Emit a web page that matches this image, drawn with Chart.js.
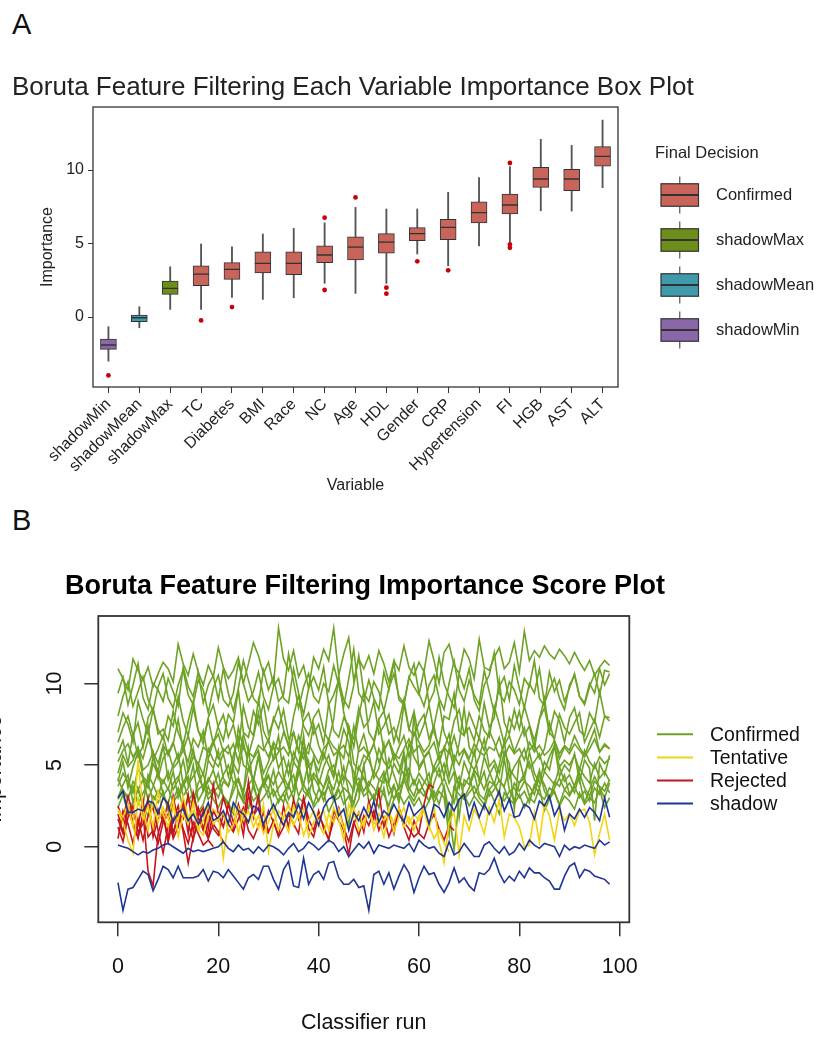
<!DOCTYPE html>
<html>
<head>
<meta charset="utf-8">
<title>Boruta feature filtering</title>
<script src="https://cdn.jsdelivr.net/npm/chart.js@4.4.1/dist/chart.umd.min.js"></script>
<style>
  html, body { margin: 0; padding: 0; background: #fff; }
  body { width: 821px; height: 1038px; position: relative; overflow: hidden; font-family: 'Liberation Sans', Arial, sans-serif; }
  .panel-tag { position: absolute; left: 12px; font-size: 29px; line-height: 32px; color: #111; }
  #boxChart { position: absolute; left: 0; top: 60px; }
  #historyChart { position: absolute; left: 0; top: 560px; }
</style>
</head>
<body>
<div class="panel-tag" style="top: 8px;">A</div>
<div class="panel-tag" style="top: 504px;">B</div>
<canvas id="boxChart" width="821" height="440"></canvas>
<canvas id="historyChart" width="821" height="478"></canvas>
<script>
// ---------- Panel A: box plot summary ----------
const variables = ['shadowMin', 'shadowMean', 'shadowMax', 'TC', 'Diabetes', 'BMI', 'Race', 'NC', 'Age', 'HDL', 'Gender', 'CRP', 'Hypertension', 'FI', 'HGB', 'AST', 'ALT'];
const decisions = ['shadowMin', 'shadowMean', 'shadowMax', 'Confirmed', 'Confirmed', 'Confirmed', 'Confirmed', 'Confirmed', 'Confirmed', 'Confirmed', 'Confirmed', 'Confirmed', 'Confirmed', 'Confirmed', 'Confirmed', 'Confirmed', 'Confirmed'];
const whiskerLow  = [-3.00, -0.73, 0.52, 0.52, 1.34, 1.20, 1.31, 2.29, 1.61, 2.29, 4.29, 3.49, 4.83, 5.12, 7.23, 7.21, 8.80];
const q1          = [-2.20, -0.32, 1.54, 2.13, 2.56, 3.01, 2.88, 3.70, 3.88, 4.35, 5.19, 5.26, 6.41, 7.01, 8.82, 8.59, 10.27];
const medians     = [-1.90, -0.05, 1.95, 2.92, 3.24, 3.65, 3.65, 4.22, 4.76, 5.10, 5.67, 6.10, 7.10, 7.62, 9.39, 9.39, 10.93];
const q3          = [-1.50, 0.14, 2.45, 3.49, 3.70, 4.44, 4.44, 4.85, 5.46, 5.67, 6.08, 6.64, 7.84, 8.37, 10.18, 10.05, 11.59];
const whiskerHigh = [-0.66, 0.70, 3.42, 4.97, 4.78, 5.65, 6.03, 6.41, 7.46, 7.35, 7.35, 8.48, 9.48, 10.23, 12.09, 11.68, 13.40];
const outlierVars = ['shadowMin', 'TC', 'Diabetes', 'NC', 'NC', 'Age', 'HDL', 'HDL', 'Gender', 'CRP', 'FI', 'FI', 'FI'];
const outlierVals = [-3.97, -0.23, 0.68, 6.76, 1.84, 8.14, 2.00, 1.59, 3.79, 3.18, 10.48, 4.94, 4.71];
const legendDecisions = ['Confirmed', 'shadowMax', 'shadowMean', 'shadowMin'];
const boxFill = { Confirmed: '#c8645a', shadowMax: '#6e8e1b', shadowMean: '#3f9bab', shadowMin: '#8a67a8' };

// ---------- Panel B: importance history (runs 0..98) ----------
const runs = Array.from({ length: 99 }, (_, i) => i);
const impALT = [10.9,10.3,9.6,11.5,10.8,10.2,11.0,9.8,10.6,11.3, 10.9,10.1,12.4,11.2,10.5,11.8,10.7,9.9,11.1,10.4, 12.2,11.0,10.3,10.8,11.6,10.0,11.2,12.5,11.7,10.6, 11.3,9.9,13.4,11.5,10.8,12.0,10.4,11.1,9.7,11.6, 10.9,12.1,11.4,13.4,10.5,11.8,12.8,10.2,11.5,10.9, 11.7,10.6,12.0,11.2,10.1,11.4,10.8,12.3,11.0,10.5, 11.3,10.7,12.6,11.4,10.0,11.9,12.4,11.1,10.6,12.1, 11.5,10.3,12.7,11.0,10.8,11.6,12.2,10.9,11.3,12.5, 10.7,13.2,11.4,12.0,11.6,12.3,11.8,11.5,12.1,11.7, 11.2,11.9,11.3,10.8,11.4,10.5,11.0,11.4,11.1];
const impHGB = [9.4,10.4,8.7,9.9,11.2,9.1,8.4,10.0,9.6,8.9, 10.3,9.5,8.6,11.0,9.8,9.2,10.7,8.8,9.9,10.5, 9.0,10.9,9.4,8.3,9.7,11.4,10.2,9.1,8.7,10.8, 9.6,10.4,8.9,9.3,11.8,10.1,8.5,9.8,10.6,9.2, 8.8,10.0,9.5,11.1,9.9,8.6,10.3,12.1,9.4,8.9, 10.2,9.1,8.4,10.7,9.6,11.3,9.0,8.7,10.4,9.8, 9.3,10.8,8.8,9.5,11.6,10.0,9.2,8.5,10.6,9.7, 10.9,9.0,8.3,9.9,10.5,11.9,9.4,8.9,10.1,9.6, 8.7,10.3,9.8,11.4,9.1,8.6,10.7,9.5,10.2,8.9, 9.7,10.6,9.2,8.8,10.0,9.4,10.9,9.9,10.6];
const impAST = [8.0,9.2,10.1,8.6,9.5,10.4,9.0,8.3,9.8,10.6, 9.1,8.5,9.9,10.8,9.3,8.7,10.2,9.6,8.2,9.7, 10.5,9.0,8.6,9.4,11.3,10.0,8.9,9.5,10.7,9.2, 8.4,9.8,10.3,9.1,8.8,10.9,9.4,8.1,9.7,10.4, 9.6,11.0,8.7,9.3,10.2,9.0,8.5,9.9,11.7,9.4, 8.9,10.1,9.5,8.3,9.7,10.6,9.2,8.8,10.3,11.2, 9.4,8.6,9.9,10.5,9.1,8.4,10.0,11.4,9.6,8.9, 10.2,9.3,8.7,10.8,9.5,8.2,9.8,10.4,9.0,11.1, 9.7,8.5,10.0,9.4,10.9,8.8,9.6,10.3,9.1,8.4, 9.9,10.5,9.2,8.7,9.8,10.6,9.3,10.8,10.7];
const impFI = [7.0,8.2,7.5,6.4,8.9,7.8,6.9,8.4,7.2,6.6, 8.0,7.4,9.2,7.7,6.8,8.5,7.1,6.3,7.9,8.7, 7.3,6.5,8.1,7.6,9.6,7.0,6.7,8.3,7.5,8.8, 6.9,7.7,8.6,7.2,6.1,8.0,9.3,7.4,6.8,7.9, 8.4,7.1,6.5,7.8,10.5,8.2,7.0,6.6,8.5,7.3, 7.7,8.9,6.9,7.4,8.1,6.4,7.6,9.0,7.2,8.3, 6.7,7.5,8.7,7.0,6.2,8.0,7.8,9.4,7.1,6.8, 8.2,7.4,6.6,8.8,7.3,7.9,10.2,7.6,6.9,8.4, 7.2,8.6,7.5,6.5,7.8,9.1,7.0,8.3,7.7,6.4, 7.9,8.5,7.1,6.8,8.2,7.6,9.5,8.0,7.7];
const impHypertension = [6.4,7.3,8.0,6.8,7.6,6.1,7.9,8.5,6.9,7.2, 6.5,8.3,7.0,6.2,7.7,8.9,7.1,6.6,7.8,6.3, 7.4,8.1,6.7,7.5,6.0,8.6,7.3,6.8,9.0,7.1, 6.4,7.9,7.2,8.4,6.6,7.0,5.8,7.7,8.2,6.9, 7.5,6.3,8.8,7.1,6.7,7.9,7.4,6.1,8.0,9.5, 7.0,6.5,7.8,8.3,6.9,7.3,6.4,8.7,7.2,6.8, 7.6,8.1,6.6,7.4,8.9,7.0,6.2,7.7,8.4,6.9, 7.3,6.5,8.0,7.1,6.7,8.6,7.5,6.3,7.9,7.2, 8.3,6.8,7.4,6.0,7.8,8.5,7.0,6.6,8.1,7.3, 6.9,7.6,8.2,6.4,7.1,7.8,6.7,8.0,7.9];
const impCRP = [5.7,6.5,5.1,6.9,5.5,6.2,7.4,5.3,6.0,6.8, 5.6,6.3,7.8,5.9,5.2,6.6,6.1,7.1,5.4,6.4, 6.9,5.8,6.2,5.0,7.3,6.0,5.6,6.7,8.2,6.1, 5.5,6.4,5.9,7.0,6.3,5.2,6.8,6.0,5.7,7.5, 6.2,5.4,6.6,6.1,5.8,7.2,6.4,3.9,6.0,6.9, 5.6,6.3,7.7,5.9,6.5,5.3,6.1,6.8,5.5,7.0, 6.4,5.8,6.2,7.4,5.7,6.0,6.9,5.1,6.3,8.5, 6.1,5.6,6.7,5.9,7.1,6.4,5.5,6.2,6.8,5.8, 6.6,7.3,5.9,6.3,5.4,6.0,7.6,6.5,5.7,6.2, 5.9,6.8,6.1,5.6,6.4,7.2,5.8,6.3,6.0];
const impGender = [5.2,5.9,6.3,5.5,6.0,5.4,6.6,5.8,5.1,6.2, 5.7,6.4,5.3,5.9,6.8,5.6,5.0,6.1,5.8,6.5, 5.4,6.0,5.7,6.3,5.2,6.9,5.8,5.5,6.2,5.9, 6.6,5.3,5.8,6.1,5.6,7.0,5.9,5.4,6.3,5.7, 5.1,6.0,6.4,5.6,5.9,6.2,5.5,7.4,5.8,6.1, 5.6,6.3,5.2,5.9,6.5,5.7,5.4,6.0,6.6,5.8, 6.2,5.5,5.9,6.4,5.3,6.1,5.7,6.8,5.6,6.0, 5.4,6.3,5.8,5.6,6.1,5.9,6.7,5.5,6.2,5.7, 6.0,5.3,6.4,5.8,6.2,5.6,5.9,6.5,5.4,6.1, 5.7,6.3,5.9,5.5,6.0,6.6,5.8,6.2,6.0];
const impHDL = [4.5,5.6,4.9,5.3,6.1,4.7,5.0,5.8,4.2,5.4, 5.9,4.8,5.2,6.4,4.6,5.5,5.1,4.4,6.0,5.3, 4.9,5.7,4.3,5.6,6.7,5.0,4.7,5.4,5.9,4.5, 5.2,6.2,4.8,5.5,4.4,5.8,5.1,6.5,4.9,5.3, 4.6,5.7,5.0,4.2,5.9,5.4,7.3,5.1,4.7,5.6, 5.3,4.5,6.0,5.2,4.8,5.7,5.0,4.4,6.3,5.5, 4.9,5.4,5.8,4.6,5.1,6.1,4.3,5.6,5.0,5.9, 5.2,4.7,5.5,6.6,4.9,5.3,4.5,5.8,5.1,2.3, 5.4,6.0,4.8,5.2,5.7,4.6,5.5,6.2,4.9,5.3, 5.0,5.6,4.7,5.9,5.2,4.8,5.5,5.1,5.4];
const impAge = [4.0,5.2,3.6,4.9,5.8,4.3,3.9,5.5,4.6,6.2, 4.1,5.0,5.7,3.8,4.7,6.0,4.4,3.5,5.3,4.8, 5.9,4.2,3.7,5.1,4.5,6.4,5.0,4.0,5.6,3.9, 4.8,5.4,6.8,4.3,3.6,5.2,4.7,5.9,4.1,5.5, 3.8,4.9,5.6,4.4,6.1,4.0,5.3,4.6,3.4,5.0, 5.7,4.2,4.8,6.3,3.9,5.1,4.5,5.8,4.1,8.1, 4.7,5.3,3.7,4.9,5.6,4.3,6.0,4.8,3.6,5.2, 4.4,5.9,4.0,5.5,4.6,3.8,5.0,6.5,4.2,4.9, 5.4,4.1,5.8,4.5,3.9,5.2,4.7,6.2,4.3,5.0, 4.6,5.7,4.0,5.3,4.8,1.6,5.1,4.4,5.6];
const impNC = [3.7,4.5,4.0,3.3,4.8,4.2,3.6,5.1,4.4,3.9, 4.6,3.5,4.1,5.3,3.8,4.3,4.9,3.4,4.0,4.7, 3.6,4.4,5.0,3.9,4.2,3.3,4.8,4.1,5.5,3.7, 4.3,3.8,4.6,4.0,5.2,3.5,4.4,6.8,3.9,4.5, 4.1,3.6,4.7,5.0,3.8,4.3,4.0,3.4,4.9,4.2, 3.7,4.6,4.1,3.9,5.4,4.4,3.5,4.2,4.8,3.8, 4.5,4.0,3.6,4.9,4.3,5.1,3.9,4.6,1.8,4.1, 3.8,4.7,4.2,3.5,4.4,5.0,4.0,3.7,4.8,4.3, 3.9,4.5,5.2,4.1,3.6,4.6,4.2,3.8,4.9,4.0, 4.4,3.7,4.8,4.3,3.9,5.1,4.2,4.6,4.0];
const impRace = [3.0,3.8,4.4,2.7,3.5,4.1,2.9,3.7,4.6,3.2, 2.6,3.9,4.3,3.1,3.6,5.0,2.8,3.4,4.2,3.7, 4.5,3.0,2.5,3.8,4.0,3.3,6.0,3.6,2.9,4.1, 3.5,4.7,3.2,2.7,3.9,4.4,3.1,3.8,5.2,3.4, 2.8,3.6,4.3,3.0,3.7,4.9,3.3,2.6,3.9,4.2, 3.5,2.9,4.0,4.6,3.2,3.8,2.7,4.4,3.6,3.1, 4.1,3.4,2.8,3.9,4.8,3.5,1.3,3.7,4.3,3.0, 3.6,4.5,3.2,2.9,4.0,3.8,3.3,5.4,3.5,2.8, 3.9,4.2,3.1,3.6,4.7,3.4,2.9,4.0,3.7,4.4, 3.2,3.8,4.1,2.7,3.5,4.3,3.6,3.0,3.9];
const impBMI = [4.2,3.4,2.9,4.0,3.6,2.6,4.4,3.8,3.1,4.1, 3.5,4.6,3.0,3.7,4.3,2.8,3.9,4.5,3.2,3.6, 3.0,4.0,3.7,4.8,3.3,2.7,3.8,4.2,3.4,3.9, 4.4,3.1,3.6,4.1,2.9,3.5,5.0,3.8,3.2,4.3, 3.7,2.8,4.0,3.5,4.6,3.3,1.2,3.9,4.2,3.4, 4.0,3.6,3.1,4.4,3.8,2.9,3.7,5.6,3.5,4.1, 3.3,3.9,4.5,3.0,3.6,4.2,3.4,2.7,4.0,3.7, 4.3,3.2,3.8,4.6,3.1,3.5,4.1,3.6,2.8,3.9, 3.4,4.0,3.7,3.2,4.4,3.8,3.0,3.6,4.2,3.5, 3.9,3.3,4.5,3.6,3.1,4.0,3.7,3.4,4.1];
const impDiabetes = [2.9,3.5,3.0,3.7,2.6,3.3,3.9,2.8,3.4,3.1, 3.6,2.7,3.2,4.0,3.0,2.5,3.5,3.8,2.9,3.3, 3.7,3.1,2.6,3.4,4.2,3.0,3.6,2.8,3.2,3.9, 3.0,3.5,2.7,3.3,3.8,2.9,4.8,3.4,3.1,2.6, 3.5,3.2,3.7,2.8,3.0,3.6,3.3,2.7,3.9,3.1, 3.4,2.9,3.6,3.2,2.5,3.7,3.0,4.1,3.3,2.8, 3.5,3.1,3.8,2.7,3.4,3.0,0.7,3.6,3.2,2.9, 3.3,3.7,3.0,2.6,3.5,3.9,3.1,2.8,3.4,3.6, 3.0,3.4,2.7,3.8,3.2,2.9,3.6,3.3,2.6,3.5, 3.1,3.7,3.0,3.4,2.8,3.6,3.2,3.9,3.3];
const impTC = [2.4,3.2,2.0,2.8,3.5,2.5,1.9,3.1,2.7,3.4, 2.2,2.9,3.6,2.3,2.8,3.3,2.1,2.6,3.7,2.9, 2.4,3.1,2.7,2.0,3.4,2.8,2.3,3.9,2.6,3.0, 3.5,2.2,2.9,3.2,2.5,1.8,3.0,2.7,3.6,2.4, 2.9,3.3,2.1,2.8,3.5,2.6,3.1,2.3,2.9,5.0, 2.7,3.2,2.4,3.6,2.0,2.9,3.3,2.6,3.1,2.5, 3.0,2.2,2.8,3.4,2.6,3.7,2.1,-0.2,2.9,3.2, 2.5,3.1,2.7,2.3,3.5,2.8,2.0,3.3,2.9,2.6, 3.2,2.4,3.0,2.7,3.6,2.2,2.9,3.4,2.5,3.1, 2.8,2.3,3.3,2.6,3.0,2.7,3.5,2.4,3.0];
const tentativeA = [2.3,1.8,2.6,1.2,5.3,2.2,1.0,2.8,1.5,2.4, 1.7,2.9,0.6,2.0,1.4,2.7,1.1,0.7,1.9,2.3, 2.0,-0.7,1.6,2.4,0.8,2.2,1.5,2.0,1.1,2.6, -0.3,1.4,2.2,1.7,0.9,2.5,1.8,2.3,0.6,1.5, 1.9,2.2,1.0,2.4,1.7,0.4,2.6,1.8,2.1,1.2, 2.5,1.0,2.0,1.6,2.3,0.9,1.8,2.4,1.4,2.0, 1.6,2.2,1.1,2.5,0.3,-1.0,1.5,2.1,-0.5,1.9, 1.0,2.3,1.7,0.8,2.4,1.5,2.9,0.6,2.0,1.8, 1.2,0.0,0.1,2.1,0.3,2.6,1.9,0.4,2.2,1.6, 2.0,1.3,2.2,2.3,1.5,-0.5,0.8,2.0,0.4];
const tentativeB = [2.2,1.5,0.4,-0.4,3.0,1.7,2.5,1.2,3.4,2.0, 1.2,2.4,1.6,3.1,1.8,2.2,1.0,1.6,2.6,1.4, 1.7,2.1,0.9,1.3,2.4,1.6,2.2,1.2,1.9,0.8, 1.5,2.3,1.0,1.8,2.6,1.3,2.0,0.7,1.6,2.2, 1.4,0.8,2.0,1.5,2.3,1.1,1.9,2.4,1.0,1.6, 2.2,1.4,1.7,0.6,2.1,1.5,2.4,1.2,1.8,1.0, 1.9,2.4,1.3,0.5,1.0,0.2,-0.3];
const rejectedA = [0.5,2.2,1.4,0.2,1.7,0.4,1.9,2.4,1.0,-0.4, 1.3,0.7,2.0,1.1,0.2,1.5,0.8,0.1,0.4,0.0];
const rejectedB = [2.0,0.9,2.6,1.5,0.5,2.1,-1.5,-2.4,0.8,1.9, 0.3,1.6,2.5,0.9,-1.0,0.6,1.3,2.2,0.5,1.4, 0.9,0.3];
const rejectedC = [1.2,0.3,1.8,2.5,0.9,1.4,3.0,0.6,1.7,2.1, 0.4,3.1,1.6,2.7,0.8,3.3,1.9,2.4,1.1,3.8, 2.0,1.2,2.6,1.5,2.2,0.7,3.2,1.9,2.4,1.3, 0.8];
const rejectedD = [2.5,1.6,3.1,2.0,1.3,2.8,0.6,1.0,2.3,1.5, 2.7,0.8,2.1,1.7,3.2,0.9,2.4,1.2,0.5,2.2, 1.6,3.0,2.0,1.1,2.6,1.4,4.0,1.8,3.1,1.0, 2.2,1.5,0.7,2.5,1.2,2.9,1.7,3.0,1.1,0.6, 1.9,1.3,0.4,2.2,1.6,1.0,-0.5,1.4,2.1,0.9, 2.8,1.7,3.4,1.2,2.0,0.8,2.4,1.5,1.1,0.6, 0.9,2.6,3.8,3.6];
const rejectedE = [1.7,0.8,2.4,1.3,0.6,1.9,2.7,1.0,0.2,1.5, 2.0,0.5,1.2,2.9,1.4,0.4,1.8,1.0,2.3,1.1, 0.7,2.0,1.4,0.9,1.7,2.4,1.0,0.5,1.3,2.1, 0.9,1.6,0.6,1.2,2.0,1.4,0.8,3.0,1.7,1.0, 2.2,1.1,0.5,1.6,2.4,1.2,0.3,1.5,0.7,1.9, 1.3,2.2,1.0,1.8,0.6,1.4,2.3,1.2,0.4,1.6, 0.8,0.5,1.4,2.0,1.1,0.4,1.3,1.0];
const shadowMaxRuns = [3.0,3.4,2.1,2.1,2.3,2.2,2.8,2.7,2.0,3.0, 2.6,1.5,2.1,2.3,1.6,2.0,1.4,2.0,2.7,1.6, 1.8,2.2,1.4,2.7,2.2,2.0,1.5,2.5,2.3,1.4, 2.0,2.6,1.9,1.3,2.1,1.8,2.6,1.7,2.7,2.1, 1.3,2.4,2.9,3.1,1.9,2.3,1.0,2.1,1.6,2.4, 1.8,2.8,1.5,2.2,1.9,2.6,2.0,1.5,2.7,1.9, 2.2,2.5,1.4,2.6,2.4,1.8,2.7,2.2,2.9,3.2, 1.7,2.7,1.8,2.6,2.0,2.7,3.4,2.2,2.9,1.8, 1.9,2.6,2.4,1.7,2.8,2.5,3.1,1.9,2.5,1.0, 2.0,1.7,2.3,1.8,2.4,2.1,1.6,3.0,1.8];
const shadowMeanRuns = [0.1,0.0,-0.1,-0.3,-0.5,-0.3,-0.4,-0.2,-0.1,0.1, 0.2,0.0,-0.2,-0.4,-0.1,-0.3,-0.2,-0.3,-0.2,-0.1, 0.0,0.3,-0.1,-0.3,0.1,-0.2,-0.1,-0.4,0.0,-0.3, 0.1,0.0,-0.2,-0.5,-0.1,0.2,-0.3,-0.1,0.3,0.1, -0.2,0.1,0.4,0.2,-0.3,0.0,-0.6,-0.2,0.2,-0.1, 0.3,-0.4,0.1,0.0,-0.1,0.1,0.0,-0.1,0.2,-0.3, 0.4,0.1,-0.1,0.0,-0.4,-0.6,0.3,-0.5,-0.3,0.2, -0.2,-0.6,-0.6,0.1,0.3,-0.1,-0.4,0.0,-0.5,-0.3, 0.2,-0.2,0.4,0.1,-0.1,0.2,0.1,0.0,-0.6,0.1, -0.2,0.0,-0.1,0.1,0.0,-0.1,0.4,0.1,0.3];
const shadowMinRuns = [-2.2,-3.9,-2.6,-2.5,-2.0,-1.5,-1.7,-2.7,-2.0,-1.2, -1.4,-1.9,-1.2,-1.9,-1.9,-1.9,-1.8,-1.4,-2.1,-1.5, -1.6,-1.9,-1.4,-1.8,-2.2,-2.6,-1.9,-1.7,-2.0,-1.2, -1.2,-2.0,-2.6,-1.4,-0.9,-2.4,-2.5,-0.7,-2.3,-1.7, -1.5,-2.0,-1.0,-0.9,-1.9,-2.3,-2.3,-2.0,-2.5,-2.4, -3.9,-1.7,-1.5,-2.3,-1.6,-2.6,-1.8,-1.1,-1.6,-2.8, -1.9,-1.2,-1.7,-1.6,-2.3,-2.8,-2.2,-1.3,-2.2,-1.9, -2.4,-2.7,-1.6,-1.7,-1.4,-0.7,-1.6,-2.2,-1.8,-2.1, -1.5,-1.9,-1.3,-1.6,-1.6,-1.9,-2.1,-2.6,-2.6,-1.8, -1.2,-1.0,-1.9,-1.4,-1.5,-1.8,-1.9,-2.0,-2.3];

const confirmedSeries = [impTC, impDiabetes, impBMI, impRace, impNC, impAge, impHDL, impGender, impCRP, impHypertension, impFI, impHGB, impAST, impALT];
const tentativeSeries = [tentativeA, tentativeB];
const rejectedSeries = [rejectedA, rejectedB, rejectedC, rejectedD, rejectedE];
const shadowSeries = [shadowMaxRuns, shadowMeanRuns, shadowMinRuns];
const historyGroups = ['Confirmed', 'Tentative', 'Rejected', 'shadow'];
const historyColors = { Confirmed: '#6da225', Tentative: '#f2d412', Rejected: '#c4161c', shadow: '#203593' };

Chart.defaults.font.family = "'Liberation Sans', Arial, Helvetica, sans-serif";
Chart.defaults.color = '#222';

// draws the closed frame around the plotting area
const framePlugin = {
    id: 'frame',
    afterDatasetsDraw(chart, args, opts) {
        const { ctx, chartArea: a } = chart;
        ctx.save();
        ctx.strokeStyle = opts.color || '#333';
        ctx.lineWidth = opts.width || 1;
        ctx.strokeRect(a.left, a.top, a.right - a.left, a.bottom - a.top);
        ctx.restore();
    }
};

// legend with box-plot keys (panel A)
const boxLegendPlugin = {
    id: 'boxLegend',
    afterDraw(chart, args, o) {
        const ctx = chart.ctx;
        ctx.save();
        ctx.font = "16.5px 'Liberation Sans', Arial, sans-serif";
        ctx.textBaseline = 'middle';
        ctx.fillStyle = '#222';
        ctx.fillText('Final Decision', o.x, o.y);
        legendDecisions.forEach((name, i) => {
            const cy = o.y + 42 + i * 45;
            const left = o.x + 6, w = 37.5, h = 22.5;
            ctx.strokeStyle = '#555';
            ctx.lineWidth = 1.2;
            ctx.beginPath();
            ctx.moveTo(left + w / 2, cy - 18.5);
            ctx.lineTo(left + w / 2, cy + 18.5);
            ctx.stroke();
            ctx.fillStyle = boxFill[name];
            ctx.fillRect(left, cy - h / 2, w, h);
            ctx.strokeStyle = '#333';
            ctx.strokeRect(left, cy - h / 2, w, h);
            ctx.lineWidth = 1.8;
            ctx.beginPath();
            ctx.moveTo(left, cy);
            ctx.lineTo(left + w, cy);
            ctx.stroke();
            ctx.fillStyle = '#222';
            ctx.fillText(name, o.x + 61, cy);
        });
        ctx.restore();
    }
};

// line-key legend (panel B)
const lineLegendPlugin = {
    id: 'lineLegend',
    afterDraw(chart, args, o) {
        const ctx = chart.ctx;
        ctx.save();
        ctx.font = "19.5px 'Liberation Sans', Arial, sans-serif";
        ctx.textBaseline = 'middle';
        historyGroups.forEach((name, i) => {
            const cy = o.y + i * 23.1;
            ctx.strokeStyle = historyColors[name];
            ctx.lineWidth = 2;
            ctx.beginPath();
            ctx.moveTo(o.x, cy);
            ctx.lineTo(o.x + 36, cy);
            ctx.stroke();
            ctx.fillStyle = '#111';
            ctx.fillText(name, o.x + 53, cy + 1);
        });
        ctx.restore();
    }
};

// empty axis that only reserves room for the hand-drawn legend
function spacerAxis(width) {
    return {
        type: 'linear',
        position: 'right',
        display: true,
        grid: { display: false },
        border: { display: false },
        ticks: { display: false },
        afterFit: s => { s.width = width; }
    };
}

document.addEventListener('DOMContentLoaded', function () {
    const fills = decisions.map(d => boxFill[d]);
    const boxBase = { borderColor: '#333', borderWidth: 1, borderSkipped: false, barThickness: 16, grouped: false, order: 2 };

    new Chart(document.getElementById('boxChart'), {
        type: 'bar',
        data: {
            labels: variables,
            datasets: [
                { label: 'whisker', data: variables.map((v, i) => [whiskerLow[i], whiskerHigh[i]]), backgroundColor: '#555', barThickness: 1.2, grouped: false, order: 3 },
                { ...boxBase, label: 'lower', data: variables.map((v, i) => [q1[i], medians[i]]), backgroundColor: fills },
                { ...boxBase, label: 'upper', data: variables.map((v, i) => [medians[i], q3[i]]), backgroundColor: fills },
                { type: 'scatter', label: 'outliers', data: outlierVars.map((v, i) => ({ x: v, y: outlierVals[i] })), backgroundColor: '#c8000a', borderWidth: 0, pointRadius: 2.4, order: 1 }
            ]
        },
        options: {
            responsive: false,
            animation: false,
            layout: { padding: { left: 12, top: 0, right: 0, bottom: 0 } },
            scales: {
                x: {
                    type: 'category',
                    offset: true,
                    grid: { offset: false, drawOnChartArea: false, tickLength: 6, color: '#333' },
                    border: { display: false },
                    ticks: { minRotation: 45, maxRotation: 45, autoSkip: false, padding: 2, color: '#222', font: { size: 16 } },
                    title: { display: true, text: 'Variable', color: '#222', font: { size: 16 }, padding: { top: 0, bottom: 5 } },
                    afterFit: s => { s.height = 113; }
                },
                y: {
                    min: -4.76,
                    max: 14.29,
                    grid: { drawOnChartArea: false, tickLength: 5, color: '#333' },
                    border: { display: false },
                    ticks: { stepSize: 5, includeBounds: false, padding: 4, color: '#222', font: { size: 16 } },
                    title: { display: true, text: 'Importance', color: '#222', font: { size: 16 }, padding: { top: 26, bottom: 0 } },
                    afterFit: s => { s.width = 81; }
                },
                legendRoom: spacerAxis(203)
            },
            plugins: {
                legend: { display: false },
                tooltip: { enabled: false },
                title: {
                    display: true,
                    text: 'Boruta Feature Filtering Each Variable Importance Box Plot',
                    align: 'start',
                    color: '#222',
                    font: { size: 26, weight: 'normal' },
                    padding: { top: 12.7, bottom: 3.1 }
                },
                frame: { color: '#333', width: 1.3 },
                boxLegend: { x: 655, y: 93 }
            }
        },
        plugins: [framePlugin, boxLegendPlugin]
    });

    const lineDatasets = [];
    shadowSeries.forEach(s => lineDatasets.push({ label: 'shadow', data: s, borderColor: historyColors.shadow, order: 0 }));
    tentativeSeries.forEach(s => lineDatasets.push({ label: 'Tentative', data: s, borderColor: historyColors.Tentative, order: 1 }));
    rejectedSeries.forEach(s => lineDatasets.push({ label: 'Rejected', data: s, borderColor: historyColors.Rejected, order: 2 }));
    confirmedSeries.forEach(s => lineDatasets.push({ label: 'Confirmed', data: s, borderColor: historyColors.Confirmed, order: 3 }));

    new Chart(document.getElementById('historyChart'), {
        type: 'line',
        data: { labels: runs, datasets: lineDatasets },
        options: {
            responsive: false,
            animation: false,
            layout: { padding: { left: 0, top: 0, right: 91, bottom: 0 } },
            elements: { point: { radius: 0 }, line: { borderWidth: 1.6, tension: 0 } },
            scales: {
                x: {
                    type: 'linear',
                    min: -3.92,
                    max: 101.92,
                    grid: { drawOnChartArea: false, tickLength: 14, color: '#333', lineWidth: 1.5 },
                    border: { display: false },
                    ticks: { stepSize: 20, includeBounds: false, padding: 17.8, color: '#111', font: { size: 21.5 } },
                    title: { display: true, text: 'Classifier run', color: '#111', font: { size: 21.5 }, padding: { top: 0, bottom: 2.1 } },
                    afterFit: s => { s.height = 115.7; }
                },
                y: {
                    min: -4.63,
                    max: 14.13,
                    grid: { drawOnChartArea: false, tickLength: 14, color: '#333', lineWidth: 1.5 },
                    border: { display: false },
                    ticks: { stepSize: 5, includeBounds: false, minRotation: 90, maxRotation: 90, crossAlign: 'center', padding: 17.3, color: '#111', font: { size: 21.5 } },
                    title: { display: true, text: 'Importance', color: '#111', font: { size: 21.5 }, padding: { top: -18, bottom: 0 } },
                    afterFit: s => { s.width = 98.3; }
                },
                legendRoom: spacerAxis(100.7)
            },
            plugins: {
                legend: { display: false },
                tooltip: { enabled: false },
                title: {
                    display: true,
                    text: 'Boruta Feature Filtering Importance Score Plot',
                    color: '#000',
                    font: { size: 27, weight: 'bold' },
                    padding: { top: 10.8, bottom: 12.8 }
                },
                frame: { color: '#333', width: 1.8 },
                lineLegend: { x: 657, y: 174.3 }
            }
        },
        plugins: [framePlugin, lineLegendPlugin]
    });
});
</script>
</body>
</html>
